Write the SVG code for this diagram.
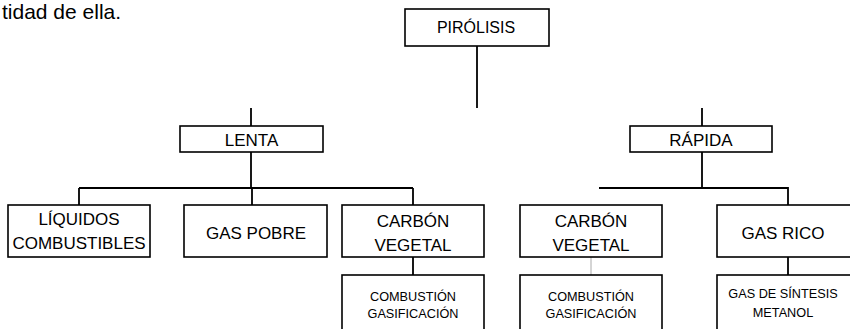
<svg xmlns="http://www.w3.org/2000/svg" width="850" height="329" viewBox="0 0 850 329">
<style>
.box{fill:#fff;stroke:#000;stroke-width:1.6}
.t{font-family:"Liberation Sans",Arial,sans-serif;font-size:17px;fill:#000;text-anchor:middle}
.s{font-family:"Liberation Sans",Arial,sans-serif;font-size:12.7px;fill:#000;text-anchor:middle}
.c{fill:none;stroke:#000;stroke-width:1.8}
</style>
<rect width="850" height="329" fill="#fff"/>
<text x="2" y="19" font-family="Liberation Sans,Arial,sans-serif" font-size="21" fill="#000">tidad de ella.</text>
<g id="connectors">
<path class="c" d="M477 46V108"/>
<path class="c" d="M251 108V126M251 152V188M79 188H413M79 188V205M252 188V205M413 188V205"/>
<path class="c" d="M702 108V126M702 152V188M599 188H788V205"/>
<path class="c" d="M413 257V275M788 257V275"/>
<path d="M591 257V275" stroke="#aaa" stroke-width="1" fill="none"/>
</g>
<g id="pirolisis"><rect class="box" x="405" y="9" width="144" height="37"/><text class="t" x="476" y="33" style="font-size:16px">PIRÓLISIS</text></g>
<g id="lenta"><rect class="box" x="180" y="126" width="143" height="26"/><text class="t" x="251.5" y="146">LENTA</text></g>
<g id="rapida"><rect class="box" x="630" y="126" width="142" height="26"/><text class="t" x="701" y="146">RÁPIDA</text></g>
<g id="liquidos"><rect class="box" x="8" y="205" width="142" height="52"/><text class="t" x="79" y="225">LÍQUIDOS</text><text class="t" x="79" y="249">COMBUSTIBLES</text></g>
<g id="gaspobre"><rect class="box" x="184" y="205" width="143" height="52"/><text class="t" x="256" y="239">GAS POBRE</text></g>
<g id="carbon1"><rect class="box" x="342" y="205" width="142" height="52"/><text class="t" x="413" y="227">CARBÓN</text><text class="t" x="413" y="251">VEGETAL</text></g>
<g id="carbon2"><rect class="box" x="520" y="205" width="142" height="52"/><text class="t" x="591" y="227">CARBÓN</text><text class="t" x="591" y="251">VEGETAL</text></g>
<g id="gasrico"><rect class="box" x="717" y="205" width="150" height="52"/><text class="t" x="783" y="239">GAS RICO</text></g>
<g id="comb1"><rect class="box" x="342" y="275" width="142" height="70"/><text class="s" x="413" y="301">COMBUSTIÓN</text><text class="s" x="413" y="318">GASIFICACIÓN</text></g>
<g id="comb2"><rect class="box" x="520" y="275" width="142" height="70"/><text class="s" x="591" y="301">COMBUSTIÓN</text><text class="s" x="591" y="318">GASIFICACIÓN</text></g>
<g id="sintesis"><rect class="box" x="717" y="275" width="150" height="70"/><text class="s" x="783" y="298">GAS DE SÍNTESIS</text><text class="s" x="783" y="317">METANOL</text></g>
</svg>
